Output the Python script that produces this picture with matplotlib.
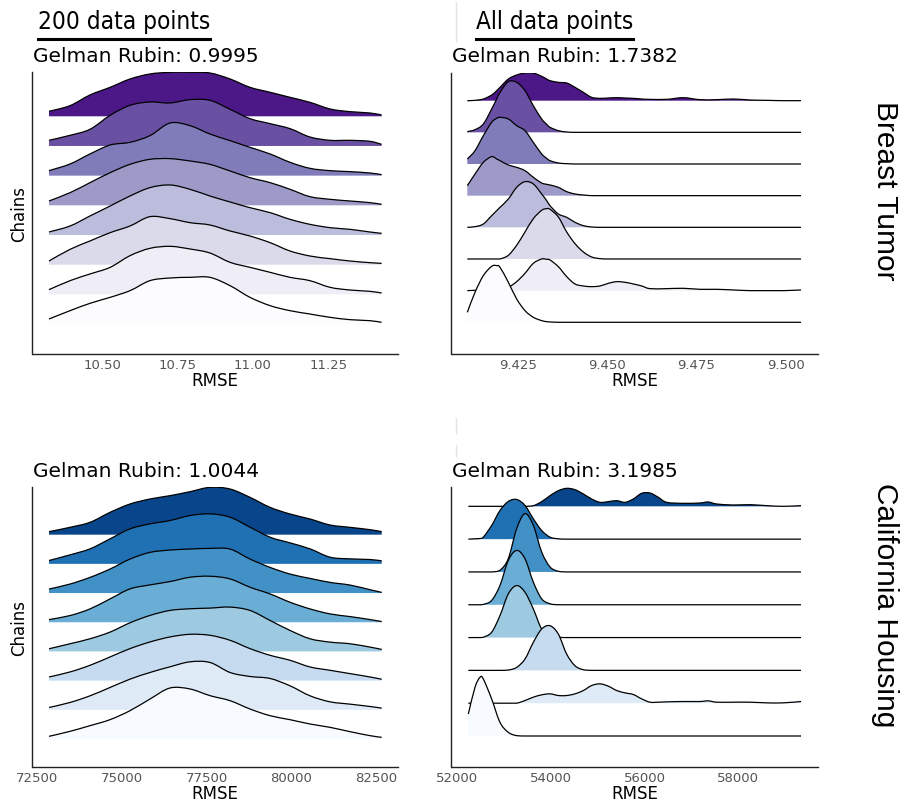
import numpy as np
import matplotlib
matplotlib.use("Agg")
import matplotlib.pyplot as plt
from matplotlib.lines import Line2D
from matplotlib.path import Path
from matplotlib.patches import PathPatch

# ---------------- DATA ----------------
gelman = [0.9995, 1.7382, 1.0044, 3.1985]
column_titles = ["200 data points", "All data points"]
row_titles = ["Breast Tumor", "California Housing"]

# Breast Tumor, 200 data points: RMSE grid and chain densities (top chain first)
bt200_x = [10.323, 10.393, 10.459, 10.526, 10.592, 10.658, 10.725, 10.791, 10.857,
           10.924, 10.990, 11.057, 11.123, 11.189, 11.256, 11.322, 11.388, 11.427]
bt200_density = [
    [15, 32, 64, 87, 112, 127, 132, 132, 130, 112, 87, 72, 57, 42, 22, 14, 10, 4],
    [17, 32, 50, 92, 122, 132, 129, 139, 137, 110, 82, 67, 52, 27, 17, 17, 14, 5],
    [15, 35, 65, 92, 100, 120, 158, 150, 125, 105, 85, 65, 40, 22, 15, 12, 8, 3],
    [13, 38, 68, 98, 123, 138, 140, 133, 123, 103, 83, 68, 48, 26, 18, 13, 8, 3],
    [9, 27, 57, 87, 117, 142, 150, 137, 117, 99, 82, 67, 47, 32, 22, 17, 9, 5],
    [11, 46, 71, 96, 116, 144, 138, 126, 119, 101, 86, 66, 41, 26, 18, 11, 6, 4],
    [14, 41, 61, 81, 116, 138, 144, 136, 124, 96, 81, 66, 51, 41, 21, 13, 9, 4],
    [15, 40, 62, 80, 100, 130, 138, 140, 140, 115, 80, 55, 40, 30, 20, 13, 10, 5],
]
bt200_ticks = [10.50, 10.75, 11.00, 11.25]
bt200_ticklabels = ["10.50", "10.75", "11.00", "11.25"]

# Breast Tumor, all data points
btall_x = [9.41090, 9.41305, 9.41538, 9.41771, 9.41911, 9.42005, 9.42238, 9.42471,
           9.42704, 9.42937, 9.43171, 9.43311, 9.43404, 9.43637, 9.43871, 9.44104,
           9.44337, 9.44570, 9.44803, 9.45037, 9.45270, 9.45503, 9.45736, 9.45970,
           9.46203, 9.46669, 9.47136, 9.47602, 9.48069, 9.48535, 9.49002, 9.49468,
           9.49934, 9.50429]
btall_density = [
    [0, 1, 5, 17, 30, 40, 65, 77, 83, 83, 73, 65, 60, 55, 53, 40, 25, 10, 7, 8, 9, 8, 7, 5,
     4, 4, 9, 3, 3, 5, 2, 1, 0, 0],
    [2, 8, 25, 70, 100, 120, 152, 150, 125, 80, 40, 24, 15, 5, 1, 0, 0, 0, 0, 0, 0, 0, 0, 0,
     0, 0, 0, 0, 0, 0, 0, 0, 0, 0],
    [15, 40, 85, 125, 137, 140, 135, 115, 100, 65, 30, 17, 10, 3, 1, 0, 0, 0, 0, 0, 0, 0, 0, 0,
     0, 0, 0, 0, 0, 0, 0, 0, 0, 0],
    [30, 65, 100, 117, 110, 105, 92, 85, 75, 55, 38, 34, 32, 25, 12, 5, 2, 0, 0, 0, 0, 0, 0, 0,
     0, 0, 0, 0, 0, 0, 0, 0, 0, 0],
    [0, 2, 10, 35, 50, 60, 85, 120, 137, 130, 100, 80, 65, 40, 30, 15, 5, 1, 0, 0, 0, 0, 0, 0,
     0, 0, 0, 0, 0, 0, 0, 0, 0, 0],
    [0, 0, 0, 0, 0, 0, 11, 41, 81, 121, 146, 151, 149, 126, 81, 46, 21, 6, 1, 0, 0, 0, 0, 0,
     0, 0, 0, 0, 0, 0, 0, 0, 0, 0],
    [0, 1, 2, 3, 4, 4, 10, 27, 52, 82, 95, 94, 92, 72, 42, 20, 14, 12, 14, 22, 27, 25, 20, 14,
     6, 6, 7, 4, 4, 2, 0, 0, 0, 2],
    [30, 90, 140, 168, 170, 165, 120, 70, 35, 15, 5, 2, 1, 0, 0, 0, 0, 0, 0, 0, 0, 0, 0, 0,
     0, 0, 0, 0, 0, 0, 0, 0, 0, 0],
]
btall_ticks = [9.425, 9.450, 9.475, 9.500]
btall_ticklabels = ["9.425", "9.450", "9.475", "9.500"]

# California Housing, 200 data points
ch200_x = [72868, 73485, 74074, 74662, 75250, 75838, 76426, 77015, 77603,
           78191, 78779, 79368, 79956, 80544, 81132, 81721, 82309, 82653]
ch200_density = [
    [9, 22, 37, 67, 92, 107, 117, 129, 142, 137, 112, 82, 62, 47, 29, 22, 15, 9],
    [10, 27, 45, 75, 105, 120, 130, 145, 150, 140, 110, 80, 63, 45, 20, 15, 13, 9],
    [12, 27, 47, 72, 102, 122, 129, 132, 134, 132, 102, 77, 57, 44, 32, 24, 10, 2],
    [8, 20, 40, 70, 100, 112, 122, 135, 138, 130, 105, 85, 60, 40, 25, 17, 8, 2],
    [8, 23, 38, 58, 86, 108, 123, 128, 130, 133, 123, 93, 63, 38, 28, 23, 13, 6],
    [11, 26, 46, 71, 96, 116, 131, 139, 136, 121, 96, 76, 61, 41, 31, 21, 11, 4],
    [7, 22, 42, 67, 92, 112, 129, 144, 142, 112, 100, 94, 72, 42, 24, 17, 10, 5],
    [8, 23, 40, 58, 85, 120, 153, 150, 130, 115, 90, 70, 58, 45, 35, 22, 10, 5],
]
ch200_ticks = [72500, 75000, 77500, 80000, 82500]
ch200_ticklabels = ["72500", "75000", "77500", "80000", "82500"]

# California Housing, all data points
chall_x = [52232, 52374, 52481, 52553, 52731, 52909, 53087, 53266, 53444, 53622,
           53800, 53979, 54157, 54335, 54513, 54692, 54870, 55048, 55226, 55405,
           55583, 55761, 55939, 56118, 56296, 56474, 56831, 57187, 57365, 57544,
           57900, 58257, 58613, 58970, 59348]
chall_density = [
    [0, 0, 0, 0, 0, 0, 0, 0, 0, 2, 14, 32, 47, 54, 50, 37, 22, 12, 14, 17, 12, 22, 39, 40,
     27, 12, 9, 10, 13, 7, 4, 5, 2, 0, 2],
    [0, 1, 2, 6, 41, 86, 113, 119, 101, 61, 26, 6, 1, 0, 0, 0, 0, 0, 0, 0, 0, 0, 0, 0,
     0, 0, 0, 0, 0, 0, 0, 0, 0, 0, 0],
    [0, 0, 0, 0, 0, 5, 40, 130, 175, 140, 60, 15, 2, 0, 0, 0, 0, 0, 0, 0, 0, 0, 0, 0,
     0, 0, 0, 0, 0, 0, 0, 0, 0, 0, 0],
    [0, 0, 0, 1, 13, 58, 133, 163, 138, 68, 18, 3, 0, 0, 0, 0, 0, 0, 0, 0, 0, 0, 0, 0,
     0, 0, 0, 0, 0, 0, 0, 0, 0, 0, 0],
    [0, 0, 0, 1, 16, 66, 131, 156, 136, 86, 26, 6, 1, 0, 0, 0, 0, 0, 0, 0, 0, 0, 0, 0,
     0, 0, 0, 0, 0, 0, 0, 0, 0, 0, 0],
    [0, 0, 0, 0, 0, 0, 1, 9, 34, 84, 124, 134, 109, 49, 14, 2, 0, 0, 0, 0, 0, 0, 0, 0,
     0, 0, 0, 0, 0, 0, 0, 0, 0, 0, 0],
    [0, 0, 0, 0, 0, 0, 0, 0, 8, 18, 25, 28, 23, 23, 28, 38, 53, 58, 51, 38, 31, 26, 13, 3,
     3, 4, 5, 5, 7, 3, 3, 3, 1, 1, 5],
    [66, 146, 176, 171, 111, 41, 11, 1, 0, 0, 0, 0, 0, 0, 0, 0, 0, 0, 0, 0, 0, 0, 0, 0,
     0, 0, 0, 0, 0, 0, 0, 0, 0, 0, 0],
]
chall_ticks = [52000, 54000, 56000, 58000]
chall_ticklabels = ["52000", "54000", "56000", "58000"]

# ---------------- LAYOUT / STYLE ----------------
W, H = 904, 804
shade = [0.92, 0.75, 0.625, 0.5, 0.375, 0.25, 0.125, 0.0]
dens_scale = 1 / 3.0

panels = [
    dict(x=bt200_x, dens=bt200_density, ticks=bt200_ticks, labels=bt200_ticklabels,
         cmap="Purples", rect=(32.5, 73, 398, 355), xlim=(10.2683, 11.4814),
         gap=30.0, step=29.67, ylabel=True, title_xy=(33, 57), g=gelman[0]),
    dict(x=btall_x, dens=btall_density, ticks=btall_ticks, labels=btall_ticklabels,
         cmap="Purples", rect=(451.5, 74, 817.7, 355), xlim=(9.40647, 9.50896),
         gap=31.7, step=31.66, ylabel=False, title_xy=(452, 57), g=gelman[1]),
    dict(x=ch200_x, dens=ch200_density, ticks=ch200_ticks, labels=ch200_ticklabels,
         cmap="Blues", rect=(32.5, 488, 398, 768), xlim=(72382, 83132),
         gap=28.0, step=29.19, ylabel=True, title_xy=(33, 472), g=gelman[2]),
    dict(x=chall_x, dens=chall_density, ticks=chall_ticks, labels=chall_ticklabels,
         cmap="Blues", rect=(451.5, 488, 817.7, 768), xlim=(51872, 59705),
         gap=31.0, step=32.81, ylabel=False, title_xy=(452, 472), g=gelman[3]),
]


def smooth_segments(x, y, base):
    """Cubic Bezier segments (Catmull-Rom style) through the read points."""
    n = len(x)
    verts, codes = [], []
    for i in range(n - 1):
        p0 = (x[max(i - 1, 0)], y[max(i - 1, 0)])
        p1 = (x[i], y[i])
        p2 = (x[i + 1], y[i + 1])
        p3 = (x[min(i + 2, n - 1)], y[min(i + 2, n - 1)])
        c1 = (p1[0] + (p2[0] - p0[0]) / 6.0, max(base, p1[1] + (p2[1] - p0[1]) / 6.0))
        c2 = (p2[0] - (p3[0] - p1[0]) / 6.0, max(base, p2[1] - (p3[1] - p1[1]) / 6.0))
        verts += [c1, c2, p2]
        codes += [Path.CURVE4] * 3
    return verts, codes


fig = plt.figure(figsize=(W / 100, H / 100), dpi=100)
fig.patch.set_facecolor("white")


def box(x0, y0, x1, y1):
    return [x0 / W, 1 - y1 / H, (x1 - x0) / W, (y1 - y0) / H]


for p in panels:
    r = p["rect"]
    ax = fig.add_axes(box(*r))
    hpx = r[3] - r[1]
    ax.set_xlim(*p["xlim"])
    ax.set_ylim(0, hpx)
    cmap = plt.get_cmap(p["cmap"])
    x = np.array(p["x"], dtype=float)
    n = len(p["dens"])
    for k, d in enumerate(p["dens"]):
        base = p["gap"] + (n - 1 - k) * p["step"]
        y = base + np.array(d, dtype=float) * dens_scale
        sv, sc = smooth_segments(x, y, base)
        fverts = [(x[0], base), (x[0], y[0])] + sv + [(x[-1], base), (x[0], base)]
        fcodes = [Path.MOVETO, Path.LINETO] + sc + [Path.LINETO, Path.CLOSEPOLY]
        ax.add_patch(PathPatch(Path(fverts, fcodes), facecolor=cmap(shade[k]),
                               edgecolor="none", lw=0, zorder=2 * k + 3))
        lverts = [(x[0], y[0])] + sv
        lcodes = [Path.MOVETO] + sc
        ax.add_patch(PathPatch(Path(lverts, lcodes), facecolor="none",
                               edgecolor="black", lw=0.9, zorder=2 * k + 4))
    for s in ["top", "right"]:
        ax.spines[s].set_visible(False)
    for s in ["left", "bottom"]:
        ax.spines[s].set_color("#222222")
        ax.spines[s].set_linewidth(1.0)
    ax.set_yticks([])
    ax.set_xticks(p["ticks"])
    ax.set_xticklabels(p["labels"])
    ax.tick_params(axis="x", length=0, pad=3, labelsize=9.5, labelcolor="#555555")
    ax.set_xlabel("RMSE", fontsize=12, labelpad=0)
    if p["ylabel"]:
        ax.set_ylabel("Chains", fontsize=12, labelpad=3)
    tx, ty = p["title_xy"]
    fig.text(tx / W, 1 - ty / H, f"Gelman Rubin: {p['g']:.4f}", fontsize=14.5,
             ha="left", va="center")

# column headers with underline
hdr = []
for txt, xx in zip(column_titles, [38, 476]):
    t = fig.text(xx / W, 1 - 22 / H, txt, fontsize=17.5, fontstretch="condensed",
                 ha="left", va="center")
    hdr.append(t)
fig.canvas.draw()
rend = fig.canvas.get_renderer()
for t in hdr:
    bb = t.get_window_extent(renderer=rend)
    fig.add_artist(Line2D([bb.x0 / W, bb.x1 / W], [1 - 39.5 / H, 1 - 39.5 / H],
                          transform=fig.transFigure, color="black", lw=2.2))

# row titles on the right
for txt, yc in zip(row_titles, [191, 605]):
    fig.text(885 / W, 1 - yc / H, txt, rotation=270, fontsize=21.5,
             family=["Liberation Sans", "DejaVu Sans"], ha="center", va="center")

# faint stitching separators
for y0, y1 in [(3, 42), (419, 434), (446, 457)]:
    fig.add_artist(Line2D([456 / W, 456 / W], [1 - y0 / H, 1 - y1 / H],
                          transform=fig.transFigure, color="#e4e4e4", lw=1))

fig.savefig("out.png", dpi=100, facecolor="white")
